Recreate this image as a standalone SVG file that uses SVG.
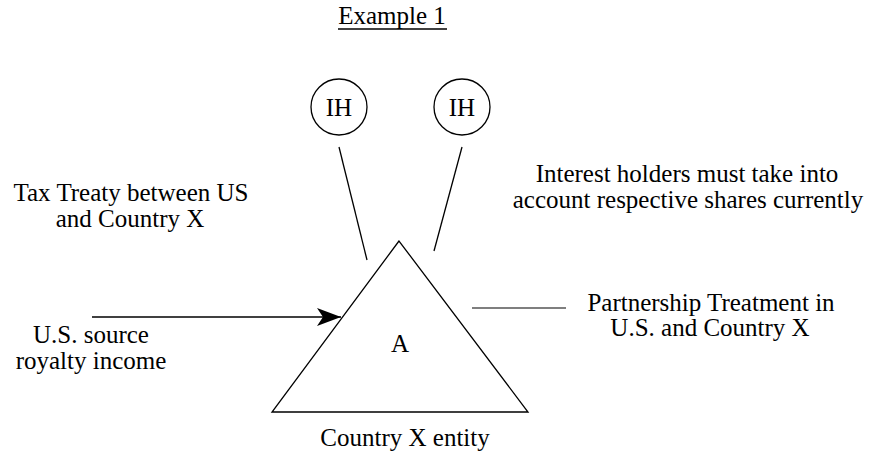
<svg xmlns="http://www.w3.org/2000/svg" width="870" height="454" viewBox="0 0 870 454">
  <defs>
    <marker id="arrow" markerWidth="26" markerHeight="20" refX="24" refY="10" orient="auto" markerUnits="userSpaceOnUse">
      <path d="M0,1 L24,10 L0,19 L6,10 Z" fill="#000"/>
    </marker>
    <style>
      text { font-family: "Liberation Serif", "Times New Roman", serif; font-size: 25px; fill: #000; text-anchor: middle; }
      .shape { fill: #fff; stroke: #000; stroke-width: 1.3; }
      .link { stroke: #000; stroke-width: 1.3; fill: none; }
    </style>
  </defs>
  <rect width="870" height="454" fill="#fff"/>

  <!-- title -->
  <g id="title">
    <text x="392" y="24">Example 1</text>
    <line x1="338" y1="29" x2="447" y2="29" stroke="#000" stroke-width="1.3"/>
  </g>

  <!-- connectors -->
  <g id="connectors">
    <line class="link" x1="339" y1="147" x2="367" y2="260"/>
    <line class="link" x1="462" y1="147" x2="434" y2="251"/>
    <line class="link" x1="92" y1="317" x2="341" y2="317" marker-end="url(#arrow)"/>
    <line x1="472" y1="308" x2="566" y2="308" stroke="#555" stroke-width="1.6"/>
  </g>

  <g id="ih-left">
    <circle class="shape" cx="339" cy="107" r="28"/>
    <text x="339" y="116">IH</text>
  </g>
  <g id="ih-right">
    <circle class="shape" cx="462" cy="107" r="28"/>
    <text x="462" y="116">IH</text>
  </g>

  <g id="entity-a">
    <polygon class="shape" points="399,241 272,412 528,412"/>
    <text x="400" y="352">A</text>
    <text x="405" y="446">Country X entity</text>
  </g>

  <g id="treaty-label">
    <text x="131" y="201">Tax Treaty between US</text>
    <text x="130" y="227">and Country X</text>
  </g>

  <g id="income-label">
    <text x="91" y="343">U.S. source</text>
    <text x="91" y="369">royalty income</text>
  </g>

  <g id="holders-label">
    <text x="687" y="182">Interest holders must take into</text>
    <text x="688" y="208">account respective shares currently</text>
  </g>

  <g id="partnership-label">
    <text x="711" y="311">Partnership Treatment in</text>
    <text x="710" y="336">U.S. and Country X</text>
  </g>
</svg>
